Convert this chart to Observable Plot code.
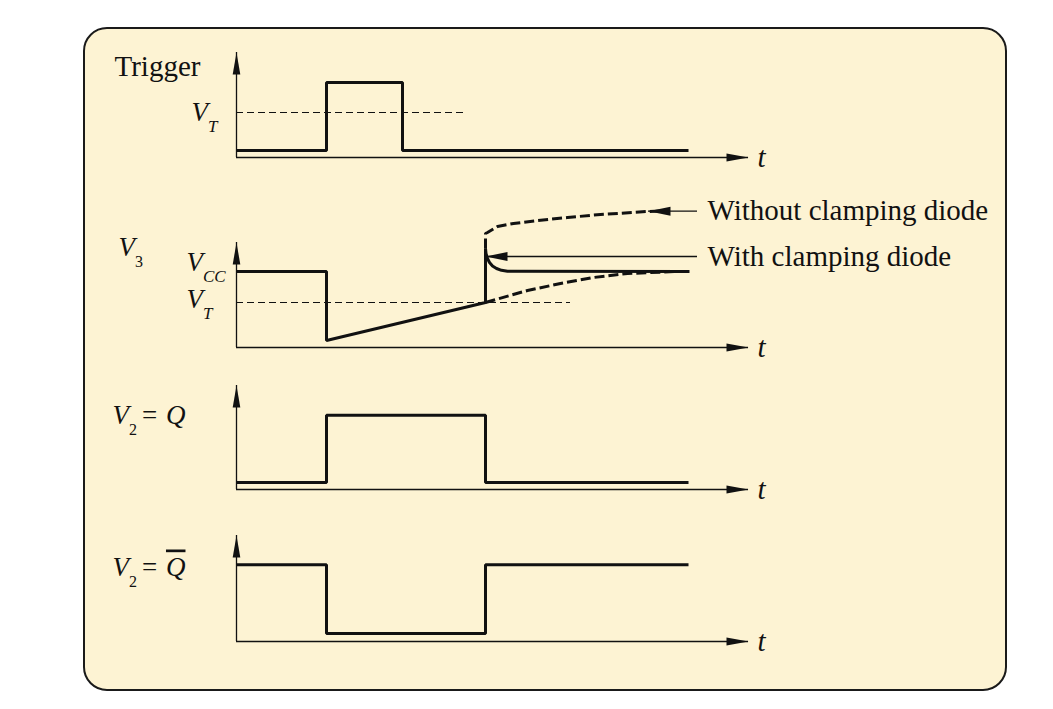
<!DOCTYPE html>
<html><head><meta charset="utf-8">
<script src="https://cdn.jsdelivr.net/npm/d3@7"></script>
<script src="https://cdn.jsdelivr.net/npm/@observablehq/plot@0.6"></script>
<style>
html,body{margin:0;padding:0;background:#fff;}
#frame{position:relative;width:1053px;height:709px;overflow:hidden;font-family:"Liberation Serif",serif;}
#box{position:absolute;left:83px;top:27px;width:920px;height:660px;background:#fdf3d3;border:2px solid #1a1a1a;border-radius:24px;}
#panels{position:absolute;left:0;top:0;width:1053px;}
#panels svg{display:block;}
</style></head><body>
<div id="frame"><div id="box"></div><div id="panels"></div></div>
<script>
// ---------- data (time in arbitrary units, voltage in arbitrary units) ----------
const tAxisEnd = 5.12;
const vAxisTop = 10.5;

// Trigger
const trigT = [0, 0.90, 0.90, 1.66, 1.66, 4.52];
const trigV = [0.7, 0.7, 7.5, 7.5, 0.7, 0.7];
const trigVT = 4.5, trigVTEnd = 2.27;

// V3
const v3T = [0, 0.90, 0.90, 2.49, 2.49];
const v3V = [7.6, 7.6, 0.7, 4.5, 9.9];
const clampT = [2.49, 2.495, 2.51, 2.53, 2.56, 2.60, 2.65, 2.71, 4.53];
const clampV = [9.9, 9.4, 8.9, 8.5, 8.15, 7.9, 7.72, 7.62, 7.6];
const noClampT = [2.49, 2.49, 2.51, 2.61, 2.77, 3.01, 3.31, 3.64, 4.11, 4.24];
const noClampV = [9.9, 11.4, 11.5, 12.1, 12.4, 12.7, 13.0, 13.3, 13.6, 13.65];
const rechargeT = [2.49, 2.91, 3.24, 3.57, 3.91, 4.24, 4.40];
const rechargeV = [4.5, 5.7, 6.4, 7.0, 7.4, 7.53, 7.6];
const v3VCC = 7.6, v3VT = 4.5, v3VTEnd = 3.34;

// V2 = Q and V2 = Q-bar
const qT = [0, 0.90, 0.90, 2.49, 2.49, 4.52];
const qV = [0.7, 0.7, 7.5, 7.5, 0.7, 0.7];
const qbarV = [7.6, 7.6, 0.8, 0.8, 7.6, 7.6];

// labels
const panelLabels = ["Trigger", "V_{3}", "V_{2}= Q", "V_{2}= Q\u0304"];
const levelLabels = ["V_{T}", "V_{CC}", "V_{T}"];
const timeLabel = "t";
const noteTexts = ["Without clamping diode", "With clamping diode"];
const noteTip = [4.12, 2.49];
const noteEnd = [4.61, 4.61];
const noteV = [13.63, 9.1];

// ---------- helpers ----------
const zipTV = (T, V) => T.map((t, i) => ({t, v: V[i]}));
const FONT = "Liberation Serif";
const arrowUp = {draw(c) { c.moveTo(0, 0); c.lineTo(3.8, 22); c.lineTo(-3.8, 22); c.closePath(); }};
const arrowRight = {draw(c) { c.moveTo(0, 0); c.lineTo(-22, -4); c.lineTo(-22, 4); c.closePath(); }};
const arrowLeft = {draw(c) { c.moveTo(0, 0); c.lineTo(22, -4.5); c.lineTo(22, 4.5); c.closePath(); }};

function axes() {
  return [
    Plot.ruleX([0], {y1: 0, y2: vAxisTop, stroke: "#111", strokeWidth: 1.3}),
    Plot.ruleY([0], {x1: 0, x2: tAxisEnd, stroke: "#111", strokeWidth: 1.3}),
    Plot.dot([{t: 0, v: vAxisTop}], {x: "t", y: "v", symbol: arrowUp, fill: "#111", stroke: "none"}),
    Plot.dot([{t: tAxisEnd, v: 0}], {x: "t", y: "v", symbol: arrowRight, fill: "#111", stroke: "none"}),
    Plot.text([timeLabel], {frameAnchor: "bottom-right", textAnchor: "start", lineAnchor: "middle",
      dx: 9, fontSize: 29, fontStyle: "italic", fill: "#111"})
  ];
}
const sig = (data, extra = {}) => Plot.line(data, {x: "t", y: "v", stroke: "#111", strokeWidth: 3,
  strokeLinejoin: "miter", strokeLinecap: "butt", ...extra});

function typeset(svg) {
  d3.select(svg).selectAll("text").each(function () {
    const s = this.textContent;
    const m = s.match(/^(.*?)_\{(.*?)\}(.*)$/);
    if (!m) return;
    const [, base, sub, rest] = m;
    const el = d3.select(this);
    el.text(null);
    el.append("tspan").text(base);
    const st = el.append("tspan").attr("dy", 11).attr("font-size", 17).text(sub);
    if (/^\d+$/.test(sub)) st.attr("font-style", "normal").attr("font-size", 16);
    if (rest) {
      const eq = rest.indexOf("=");
      el.append("tspan").attr("dy", -11).attr("dx", 5).attr("font-style", "normal").text("= ");
      const q = rest.slice(eq + 1).trim();
      const qt = el.append("tspan").attr("dx", 2).text(q.replace("\u0304", ""));
      if (q.includes("\u0304")) qt.attr("text-decoration", "overline");
    }
  });
  return svg;
}

function panel(height, marginTop, marginBottom, marks) {
  return typeset(Plot.plot({
    width: 1053, height, marginLeft: 236, marginRight: 305, marginTop, marginBottom,
    x: {domain: [0, tAxisEnd], axis: null},
    y: {domain: [0, vAxisTop], axis: null},
    style: {background: "transparent", fontFamily: FONT, color: "#111"},
    marks: [...axes(), ...marks]
  }));
}

const mathText = (extra) => ({fontSize: 27, fontStyle: "italic", fill: "#111", lineAnchor: "bottom", textAnchor: "start", ...extra});

const host = document.getElementById("panels");

// Panel 1: Trigger
host.append(panel(175, 52, 18, [
  Plot.ruleY([trigVT], {x1: 0, x2: trigVTEnd, stroke: "#111", strokeWidth: 1.1, strokeDasharray: "7,4"}),
  sig(zipTV(trigT, trigV)),
  Plot.text([panelLabels[0]], {frameAnchor: "top-left", textAnchor: "start", lineAnchor: "bottom", dx: -122, dy: 23, fontSize: 29, fill: "#111"}),
  Plot.text([levelLabels[0]], mathText({x: 0, y: [trigVT], dx: -45, dy: 8}))
]));

// Panel 2: V3
const notes = noteTexts.map((text, i) => ({text, tip: noteTip[i], end: noteEnd[i], v: noteV[i]}));
host.append(panel(190, 67, 18, [
  Plot.ruleY([v3VT], {x1: 0, x2: v3VTEnd, stroke: "#111", strokeWidth: 1.1, strokeDasharray: "7,4"}),
  sig(zipTV(rechargeT, rechargeV), {strokeDasharray: "10,4"}),
  sig(zipTV(noClampT, noClampV), {strokeDasharray: "10,4"}),
  sig(zipTV(v3T, v3V)),
  sig(zipTV(clampT, clampV)),
  Plot.ruleY(notes, {y: "v", x1: "tip", x2: "end", stroke: "#111", strokeWidth: 1.3}),
  Plot.dot(notes, {x: "tip", y: "v", symbol: arrowLeft, fill: "#111", stroke: "none"}),
  Plot.text(notes, {x: "end", y: "v", text: "text", dx: 10, textAnchor: "start", lineAnchor: "middle", fontSize: 29, fill: "#111"}),
  Plot.text([panelLabels[1]], mathText({frameAnchor: "top-left", dx: -118, dy: 13})),
  Plot.text([levelLabels[1]], mathText({x: 0, y: [v3VCC], dx: -50, dy: -1})),
  Plot.text([levelLabels[2]], mathText({x: 0, y: [v3VT], dx: -50, dy: 5}))
]));

// Panel 3: V2 = Q
host.append(panel(145, 20, 21, [
  sig(zipTV(qT, qV)),
  Plot.text([panelLabels[2]], mathText({frameAnchor: "top-left", dx: -124, dy: 38}))
]));

// Panel 4: V2 = Q-bar
host.append(panel(199, 25, 68, [
  sig(zipTV(qT, qbarV)),
  Plot.text([panelLabels[3]], mathText({frameAnchor: "top-left", dx: -124, dy: 40}))
]));
</script>
</body></html>
